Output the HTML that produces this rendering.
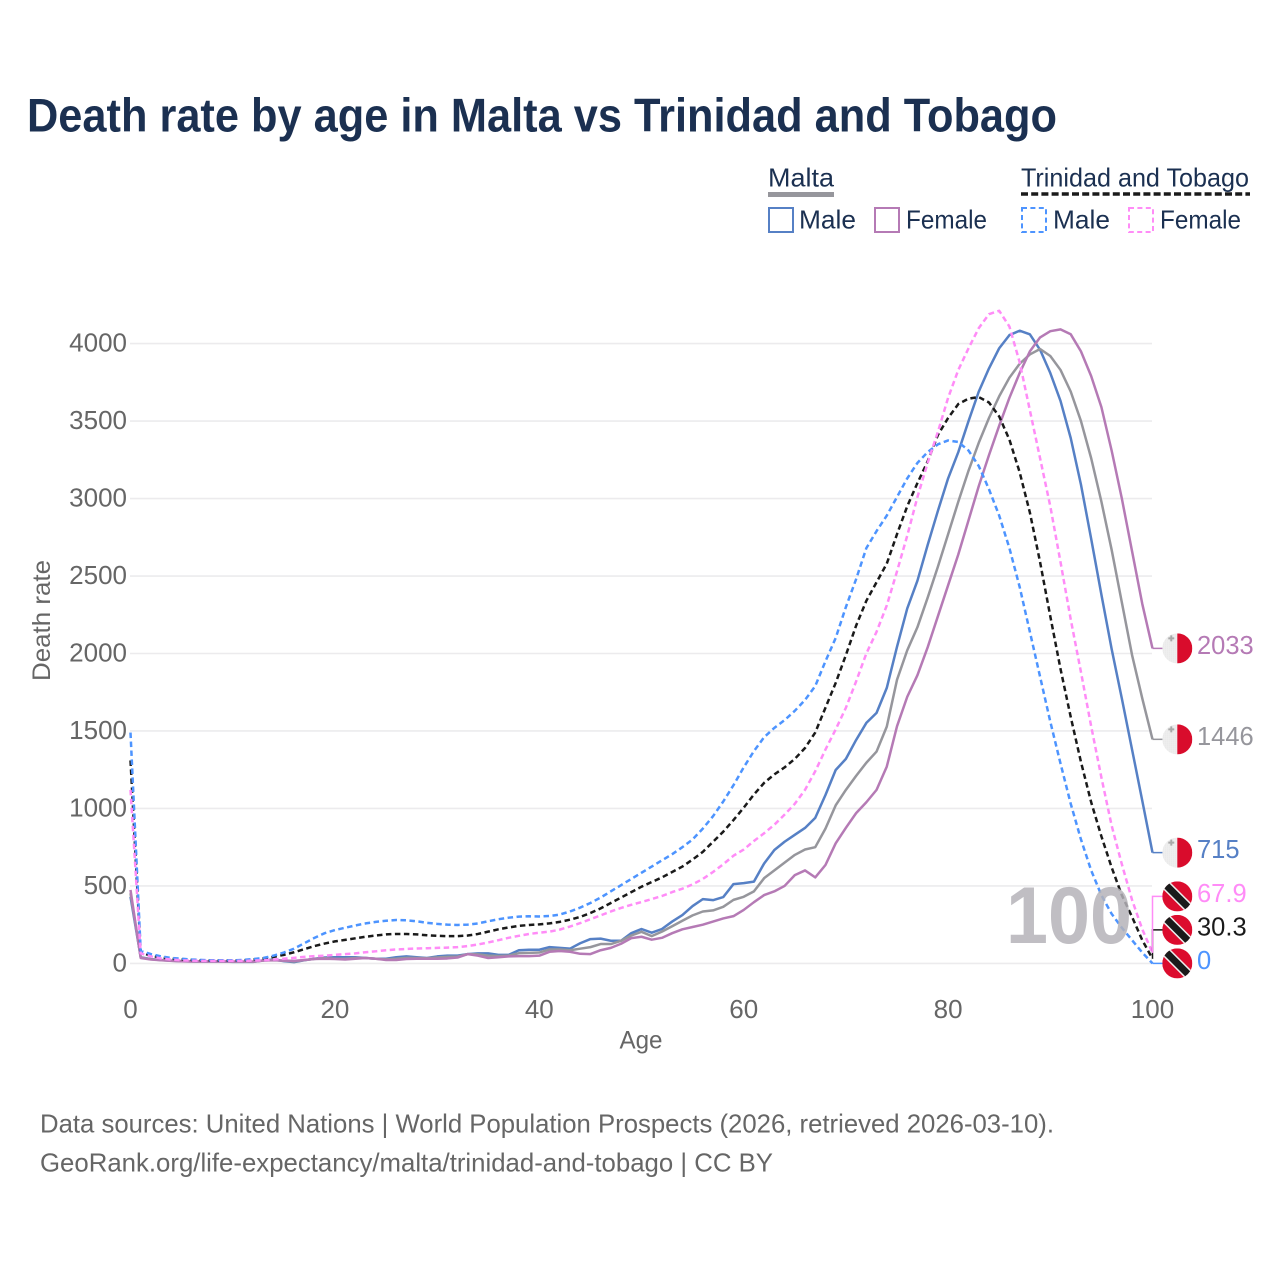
<!DOCTYPE html>
<html lang="en">
<head>
<meta charset="utf-8">
<title>Death rate by age in Malta vs Trinidad and Tobago</title>
<style>
html,body{margin:0;padding:0;background:#fff;width:1280px;height:1280px;overflow:hidden}
svg{display:block;font-family:"Liberation Sans",sans-serif}
</style>
</head>
<body>
<svg id="chart" xmlns="http://www.w3.org/2000/svg" width="1280" height="1280" viewBox="0 0 1280 1280">
  <defs>
    <clipPath id="flag-clip"><circle cx="0" cy="0" r="15"/></clipPath>
    <pattern id="speckle" width="2" height="2" patternUnits="userSpaceOnUse">
      <rect width="2" height="2" fill="#f0f0f0"/><rect width="1" height="1" fill="#e2e2e2"/>
    </pattern>
  </defs>
  <rect width="1280" height="1280" fill="#fff"/>
  <text x="27" y="131.5" font-size="47" font-weight="700" fill="#1b3051" textLength="1030" lengthAdjust="spacingAndGlyphs">Death rate by age in Malta vs Trinidad and Tobago</text>

  <g font-size="26" fill="#1b3051">
    <text x="768" y="186.5" textLength="66" lengthAdjust="spacingAndGlyphs">Malta</text>
    <rect x="768" y="192" width="66" height="5" fill="#96969c"/>
    <text x="1021" y="186.5" textLength="228" lengthAdjust="spacingAndGlyphs">Trinidad and Tobago</text>
    <line x1="1021" y1="194" x2="1250" y2="194" stroke="#1a1a1a" stroke-width="3.6" stroke-dasharray="7 3.2"/>
    <g>
      <rect x="769" y="208" width="24" height="24" fill="none" stroke="#5680c5" stroke-width="2"/>
      <text x="799" y="228.5" textLength="57" lengthAdjust="spacingAndGlyphs">Male</text>
    </g>
    <g>
      <rect x="875" y="208" width="24" height="24" fill="none" stroke="#b57ab5" stroke-width="2"/>
      <text x="906" y="228.5" textLength="81" lengthAdjust="spacingAndGlyphs">Female</text>
    </g>
    <g>
      <rect x="1022" y="208" width="24" height="24" fill="none" stroke="#4d94ff" stroke-width="2" stroke-dasharray="5 3.4"/>
      <text x="1053" y="228.5" textLength="57" lengthAdjust="spacingAndGlyphs">Male</text>
    </g>
    <g>
      <rect x="1129" y="208" width="24" height="24" fill="none" stroke="#ff8cf7" stroke-width="2" stroke-dasharray="5 3.4"/>
      <text x="1160" y="228.5" textLength="81" lengthAdjust="spacingAndGlyphs">Female</text>
    </g>
  </g>

  <g id="grid"></g>
  <g id="yticks"></g>
  <g id="xticks"></g>
  <text transform="translate(50,620.5) rotate(-90)" text-anchor="middle" font-size="25" fill="#666" textLength="121" lengthAdjust="spacingAndGlyphs">Death rate</text>
  <text x="641" y="1048.5" text-anchor="middle" font-size="25" fill="#666" textLength="43" lengthAdjust="spacingAndGlyphs">Age</text>
  <g id="series"></g>
  <text x="1132" y="943" text-anchor="end" font-size="81" font-weight="700" fill="#b5b3b9" fill-opacity="0.85" textLength="126" lengthAdjust="spacingAndGlyphs">100</text>
  <g id="endlabels"></g>

  <text x="40" y="1132.5" font-size="26" fill="#666" textLength="1014" lengthAdjust="spacingAndGlyphs">Data sources: United Nations | World Population Prospects (2026, retrieved 2026-03-10).</text>
  <text x="40" y="1171.5" font-size="26" fill="#666" textLength="733" lengthAdjust="spacingAndGlyphs">GeoRank.org/life-expectancy/malta/trinidad-and-tobago | CC BY</text>
</svg>
<script>
const maltaMale = [
  430,40,28,22,18,15,13,12,12,12,
  10,10,10,20,24,15,8,20,30,38,
  40,40,40,35,30,30,40,45,40,35,
  45,50,50,60,65,65,55,55,85,88,
  88,105,100,95,130,157,160,146,146,195,
  222,198,222,270,312,370,415,408,428,512,
  518,528,645,732,785,830,874,939,1087,1248,
  1320,1442,1552,1617,1778,2043,2290,2470,2700,2920,
  3130,3300,3500,3690,3840,3970,4055,4083,4060,3960,
  3810,3630,3390,3090,2740,2380,2030,1710,1380,1050,
  715];
const maltaBoth = [
  452,38,27,21,17,14,13,12,12,12,
  11,11,11,19,22,17,12,21,29,34,
  30,30,35,35,30,26,30,36,35,33,
  38,42,44,60,58,50,48,50,66,68,
  70,90,90,85,95,105,125,125,146,180,
  204,176,205,240,275,310,335,342,365,410,
  430,465,550,600,650,700,735,750,870,1020,
  1120,1210,1295,1367,1528,1830,2020,2170,2360,2560,
  2770,2980,3180,3360,3520,3660,3780,3870,3930,3965,
  3920,3830,3690,3500,3260,2980,2670,2330,1990,1710,
  1446];
const maltaFemale = [
  474,35,25,20,16,14,12,12,12,12,
  12,12,12,18,20,18,16,22,28,30,
  28,25,30,35,30,22,22,28,30,30,
  30,32,38,60,50,35,40,45,47,47,
  50,75,80,75,62,60,85,100,127,163,
  172,153,165,195,220,235,250,270,290,305,
  345,395,441,465,500,570,600,555,635,775,
  875,970,1040,1120,1270,1530,1720,1860,2040,2240,
  2440,2640,2860,3080,3280,3470,3650,3810,3950,4040,
  4080,4092,4060,3950,3790,3590,3310,3000,2660,2320,
  2033];
const trinidadBoth = [
  1310,70,50,38,30,26,22,20,18,18,
  18,20,25,32,42,55,72,92,112,128,
  142,152,162,172,180,187,190,190,187,182,
  178,176,176,180,190,205,220,232,242,248,
  252,258,268,282,300,325,355,390,425,460,
  495,525,555,590,625,670,720,785,850,925,
  1005,1090,1165,1220,1265,1320,1390,1490,1650,1810,
  1990,2180,2340,2460,2580,2770,2950,3100,3240,3410,
  3520,3610,3645,3655,3620,3530,3380,3170,2910,2590,
  2240,1900,1590,1300,1040,820,620,440,300,150,
  30.3];
const trinidadMale = [
  1490,80,60,45,35,30,25,22,20,20,
  20,22,28,35,50,70,95,130,165,195,
  215,230,245,258,268,275,280,278,272,262,
  255,250,248,250,258,272,285,295,302,304,
  303,306,315,335,360,390,425,465,505,545,
  585,625,665,705,750,800,870,950,1045,1150,
  1265,1370,1460,1520,1570,1630,1700,1790,1950,2100,
  2300,2480,2680,2790,2890,3010,3130,3230,3300,3350,
  3375,3365,3310,3210,3060,2890,2680,2430,2140,1850,
  1560,1290,1030,800,600,440,320,230,150,70,
  0];
const trinidadFemale = [
  1120,65,45,32,25,20,18,16,16,16,
  16,16,18,20,25,30,36,42,47,50,
  55,60,65,72,78,85,90,93,96,98,
  100,102,105,112,122,135,150,165,178,190,
  198,205,218,238,260,285,310,335,358,378,
  396,415,435,460,482,510,545,590,640,695,
  735,790,840,895,960,1030,1120,1240,1380,1510,
  1650,1820,2000,2140,2310,2530,2760,3010,3230,3430,
  3650,3830,3970,4100,4190,4212,4110,3880,3570,3260,
  2950,2590,2220,1880,1530,1200,890,640,410,220,
  67.9];
const yTickValues = [0,500,1000,1500,2000,2500,3000,3500,4000];
const xTickValues = [0,20,40,60,80,100];

const NS = 'http://www.w3.org/2000/svg';
const xScale = function (age) { return 130.5 + age * 10.22; };
const yScale = function (v) { return 963.4 - v * 0.15495; };

function make(tag, parent) {
  const el = document.createElementNS(NS, tag);
  parent.appendChild(el);
  return el;
}

const gridGroup = document.getElementById('grid');
const yGroup = document.getElementById('yticks');
yTickValues.forEach(function (v) {
  const line = make('line', gridGroup);
  
  
  line.setAttribute('x1', 130);
  line.setAttribute('x2', 1152);
  line.setAttribute('y1', yScale(v));
  line.setAttribute('y2', yScale(v));
  line.setAttribute('stroke', '#ecebed');
  line.setAttribute('stroke-width', '1.6');
  const t = make('text', yGroup);
  
  
  t.setAttribute('x', 127);
  t.setAttribute('y', yScale(v) + 8);
  t.setAttribute('text-anchor', 'end');
  t.setAttribute('font-size', '26');
  t.setAttribute('fill', '#666');
  t.textContent = v;
});

const xGroup = document.getElementById('xticks');
xTickValues.forEach(function (a) {
  const t = make('text', xGroup);
  
  
  t.setAttribute('x', xScale(a));
  t.setAttribute('y', 1018);
  t.setAttribute('text-anchor', 'middle');
  t.setAttribute('font-size', '26');
  t.setAttribute('fill', '#666');
  t.textContent = a;
});

const seriesList = [
  { id: 'malta-male', values: maltaMale, color: '#5680c5', dash: null, flag: 'mt' },
  { id: 'malta-both', values: maltaBoth, color: '#96969c', dash: null, flag: 'mt' },
  { id: 'malta-female', values: maltaFemale, color: '#b57ab5', dash: null, flag: 'mt' },
  { id: 'trinidad-both', values: trinidadBoth, color: '#1a1a1a', dash: '5.5 3.5', flag: 'tt' },
  { id: 'trinidad-male', values: trinidadMale, color: '#4d94ff', dash: '5.5 3.5', flag: 'tt' },
  { id: 'trinidad-female', values: trinidadFemale, color: '#ff8cf7', dash: '5.5 3.5', flag: 'tt' }
];

const seriesGroup = document.getElementById('series');
seriesList.forEach(function (s) {
  const path = make('path', seriesGroup);
  
  
  path.setAttribute('d', s.values.map(function (v, i) {
    return (i ? 'L' : 'M') + xScale(i).toFixed(2) + ' ' + yScale(v).toFixed(2);
  }).join(''));
  path.setAttribute('fill', 'none');
  path.setAttribute('stroke', s.color);
  path.setAttribute('stroke-width', '2.5');
  path.setAttribute('stroke-linejoin', 'round');
  if (s.dash) path.setAttribute('stroke-dasharray', s.dash);
});

/* end labels: stacked upward from the lowest value so flags never overlap */
const labelGroup = document.getElementById('endlabels');
const ordered = seriesList.slice().sort(function (a, b) {
  return a.values[100] - b.values[100];
});
let previousY = Infinity;
ordered.forEach(function (s) {
  const last = s.values[100];
  const endY = yScale(last);
  const y = Math.min(endY, previousY - 33.5);
  previousY = y;
  const xEnd = xScale(100);

  const conn = make('path', labelGroup);
  
  
  conn.setAttribute('d', 'M' + xEnd + ' ' + endY + 'L' + xEnd + ' ' + y + 'L1163 ' + y);
  conn.setAttribute('fill', 'none');
  conn.setAttribute('stroke', s.color);
  conn.setAttribute('stroke-width', '1.5');

  const flag = make('g', labelGroup);
  
  
  flag.setAttribute('transform', 'translate(1177.3,' + y + ')');
  flag.setAttribute('clip-path', 'url(#flag-clip)');
  if (s.flag === 'mt') {
    const white = make('rect', flag);
    white.setAttribute('x', -15); white.setAttribute('y', -15);
    white.setAttribute('width', 15); white.setAttribute('height', 30);
    white.setAttribute('fill', 'url(#speckle)');
    const red = make('rect', flag);
    red.setAttribute('x', 0); red.setAttribute('y', -15);
    red.setAttribute('width', 15); red.setAttribute('height', 30);
    red.setAttribute('fill', '#d90c2c');
    const cross = make('path', flag);
    cross.setAttribute('d', 'M-6 -13V-7M-9 -10H-3');
    cross.setAttribute('stroke', '#a9a9a9');
    cross.setAttribute('stroke-width', '2');
  } else {
    const red = make('rect', flag);
    red.setAttribute('x', -15); red.setAttribute('y', -15);
    red.setAttribute('width', 30); red.setAttribute('height', 30);
    red.setAttribute('fill', '#dc0c2e');
    const edge = make('line', flag);
    edge.setAttribute('x1', -15); edge.setAttribute('y1', -15);
    edge.setAttribute('x2', 15); edge.setAttribute('y2', 15);
    edge.setAttribute('stroke', '#eee');
    edge.setAttribute('stroke-width', '10');
    const band = make('line', flag);
    band.setAttribute('x1', -15); band.setAttribute('y1', -15);
    band.setAttribute('x2', 15); band.setAttribute('y2', 15);
    band.setAttribute('stroke', '#1a1a1a');
    band.setAttribute('stroke-width', '7');
  }

  const label = make('text', labelGroup);
  
  
  label.setAttribute('x', 1197);
  label.setAttribute('y', y + 5.5);
  label.setAttribute('font-size', '25.5');
  label.setAttribute('fill', s.color);
  label.textContent = last;
});
</script>
</body>
</html>
